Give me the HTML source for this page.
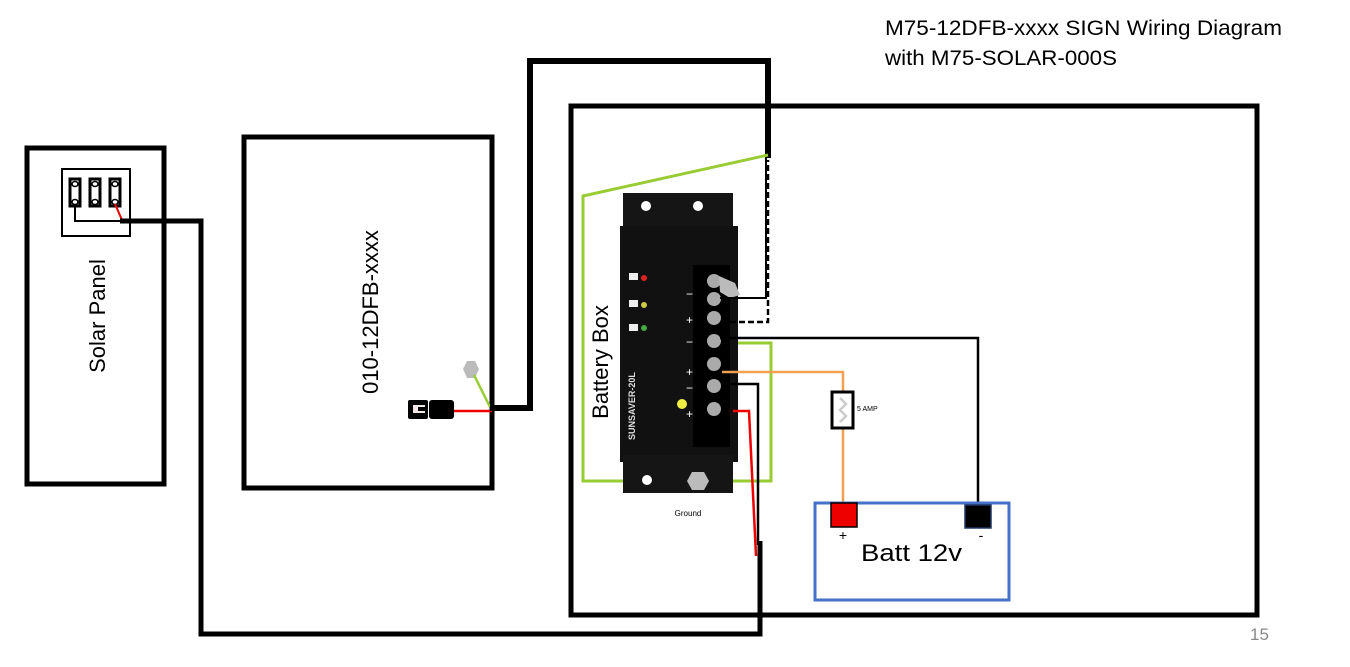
<!DOCTYPE html>
<html><head><meta charset="utf-8"><style>
html,body{margin:0;padding:0;background:#fff;}
svg{display:block;font-family:"Liberation Sans",sans-serif;}
</style></head><body>
<svg width="1350" height="667" viewBox="0 0 1350 667" xmlns="http://www.w3.org/2000/svg">
<rect width="1350" height="667" fill="#fff"/>
<text x="885" y="35" font-size="21" fill="#000" textLength="397" lengthAdjust="spacingAndGlyphs">M75-12DFB-xxxx SIGN Wiring Diagram</text>
<text x="885" y="65" font-size="21" fill="#000" textLength="232" lengthAdjust="spacingAndGlyphs">with M75-SOLAR-000S</text>
<text x="1250" y="640" font-size="17" fill="#888">15</text>

<rect x="27" y="148" width="137" height="336" fill="none" stroke="#000" stroke-width="5"/>
<text transform="translate(105,316) rotate(-90)" font-size="22" text-anchor="middle">Solar Panel</text>
<rect x="62" y="169" width="68" height="67" fill="#fff" stroke="#000" stroke-width="2"/>
<g fill="#fff" stroke="#000" stroke-width="3">
<rect x="70" y="179" width="10" height="27"/><rect x="90" y="179" width="10" height="27"/><rect x="110" y="179" width="10" height="27"/>
</g>
<g fill="#fff" stroke="#000" stroke-width="1.5">
<ellipse cx="75" cy="184" rx="3" ry="2.5"/><ellipse cx="75" cy="202" rx="3" ry="2.5"/>
<ellipse cx="95" cy="184" rx="3" ry="2.5"/><ellipse cx="95" cy="202" rx="3" ry="2.5"/>
<ellipse cx="115" cy="184" rx="3" ry="2.5"/><ellipse cx="115" cy="202" rx="3" ry="2.5"/>
</g>
<polyline points="75,204 75,221 122,221" fill="none" stroke="#000" stroke-width="2"/>
<line x1="115" y1="204" x2="122" y2="220" stroke="#e00" stroke-width="2"/>
<polyline points="120,221 201,221 201,634 760,634 760,541" fill="none" stroke="#000" stroke-width="5"/>

<rect x="244" y="137" width="248" height="351" fill="none" stroke="#000" stroke-width="5"/>
<text transform="translate(378,312) rotate(-90)" font-size="22" text-anchor="middle">010-12DFB-xxxx</text>
<rect x="408" y="400" width="20" height="19" fill="#000" rx="2"/>
<rect x="413" y="405" width="12" height="8" fill="#f2e6e6"/>
<rect x="418" y="407" width="8" height="4" fill="#000"/>
<rect x="429" y="400" width="25" height="19" fill="#000" rx="3"/>
<line x1="454" y1="411" x2="492" y2="411" stroke="#e00" stroke-width="2.5"/>
<polygon points="467,361 475,361 479,369 475,378 467,378 463,369" fill="#bbb"/>
<line x1="474" y1="375" x2="490" y2="407" stroke="#9c3" stroke-width="2.5"/>
<polyline points="490,408 530,408 530,61 768,61 768,158" fill="none" stroke="#000" stroke-width="6"/>

<rect x="571" y="106" width="686" height="509" fill="none" stroke="#000" stroke-width="5"/>
<polyline points="768,155 583,196 583,481 771,481 771,343 718,343" fill="none" stroke="#9c3" stroke-width="3"/>
<text transform="translate(608,362) rotate(-90)" font-size="22" text-anchor="middle">Battery Box</text>

<rect x="623" y="193" width="110" height="40" fill="#151515"/>
<rect x="620" y="226" width="118" height="236" fill="#111"/>
<rect x="623" y="455" width="110" height="38" fill="#151515"/>
<circle cx="646" cy="206" r="5" fill="#fff"/><circle cx="698" cy="206" r="5" fill="#fff"/>
<circle cx="647" cy="480" r="5" fill="#fff"/>
<polygon points="692,472 704,472 709,481 704,490 692,490 687,481" fill="#bbb"/>
<rect x="693" y="265" width="37" height="182" fill="#000"/>
<g fill="#aaa">
<circle cx="714" cy="281" r="7"/><circle cx="714" cy="299" r="7"/><circle cx="714" cy="318" r="7"/><circle cx="714" cy="341" r="7"/><circle cx="714" cy="364" r="7"/><circle cx="714" cy="386" r="7"/><circle cx="714" cy="409" r="7"/>
</g>
<path d="M719,276 L735,283 L740,295 L730,298 L720,292Z" fill="#bbb"/>
<g fill="#ddd" font-size="9" font-weight="bold">
<text x="635" y="440" transform="rotate(-90 635 440)">SUNSAVER-20L</text>
</g>
<circle cx="644" cy="278" r="3" fill="#d22"/><circle cx="644" cy="305" r="3" fill="#cc4"/><circle cx="644" cy="328" r="3" fill="#4a4"/>
<circle cx="682" cy="404" r="5" fill="#ee4"/>
<rect x="629" y="273" width="9" height="7" fill="#eee"/><rect x="629" y="300" width="9" height="7" fill="#eee"/><rect x="629" y="324" width="9" height="7" fill="#eee"/>
<text x="686" y="324" fill="#fff" font-size="12">+</text><text x="686" y="298" fill="#fff" font-size="12">−</text>
<text x="686" y="376" fill="#fff" font-size="12">+</text><text x="686" y="346" fill="#fff" font-size="12">−</text>
<text x="686" y="418" fill="#fff" font-size="12">+</text><text x="686" y="392" fill="#fff" font-size="12">−</text>
<text x="688" y="516" font-size="8" text-anchor="middle">Ground</text>

<polyline points="720,298 766,298 766,158" fill="none" stroke="#000" stroke-width="2"/>
<polyline points="730,322 768,322 768,160" fill="none" stroke="#000" stroke-width="2.5" stroke-dasharray="6,3"/>
<polyline points="720,338 978,338 978,505" fill="none" stroke="#000" stroke-width="2.5"/>
<polyline points="722,372 843,372 843,392" fill="none" stroke="#f0a050" stroke-width="2.5"/>
<line x1="843" y1="428" x2="843" y2="505" stroke="#f0a050" stroke-width="2.5"/>
<rect x="832" y="392" width="21" height="36" fill="#fff" stroke="#000" stroke-width="3"/>
<path d="M840,398 L846,404 L840,410 L846,416 L840,422" fill="none" stroke="#ccc" stroke-width="2.5"/>
<text x="857" y="411" font-size="7">5 AMP</text>
<polyline points="730,384 758,384 758,545" fill="none" stroke="#000" stroke-width="2.5"/>
<polyline points="733,411 749,411 756,556" fill="none" stroke="#e00" stroke-width="2.5"/>

<rect x="815" y="503" width="194" height="97" fill="none" stroke="#4472c4" stroke-width="3"/>
<rect x="831" y="503" width="26" height="24" fill="#e00" stroke="#000" stroke-width="1.5"/>
<rect x="965" y="505" width="26" height="23" fill="#000" stroke="#203864" stroke-width="1.5"/>
<text x="843" y="540" font-size="14" text-anchor="middle">+</text>
<text x="981" y="540" font-size="14" text-anchor="middle">-</text>
<text x="861" y="561" font-size="24" textLength="101" lengthAdjust="spacingAndGlyphs">Batt 12v</text>
</svg>
</body></html>
